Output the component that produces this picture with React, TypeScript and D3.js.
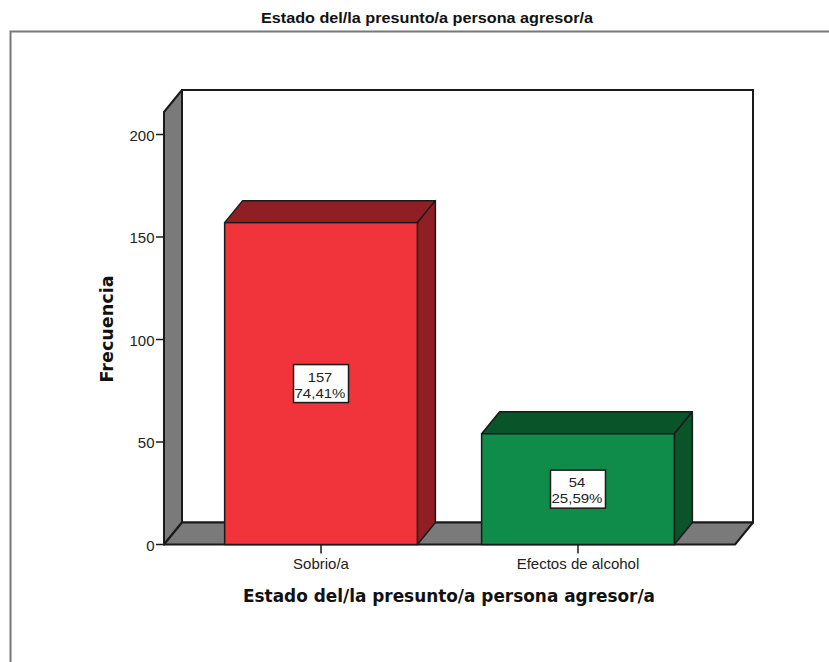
import React from "react";
import * as d3 from "d3";

const categories = ["Sobrio/a", "Efectos de alcohol"];
const counts = [157, 54];
const percents = ["74,41%", "25,59%"];
const yTicks = [0, 50, 100, 150, 200];
const fronts = ["#f1333c", "#0f8c4a"];
const sides = ["#8f1f24", "#0a5429"];
const chartTitle = "Estado del/la presunto/a persona agresor/a";
const yTitle = "Frecuencia";

const W = 829, H = 662;
const DX = 18, DY = -22;
const y = d3.scaleLinear().domain([0, 200]).range([544.5, 134.5]);
const x = d3.scaleBand<string>().domain(categories).range([164, 735]).paddingInner(0.25).paddingOuter(0.236);
const yTop = 112;
const x0 = x.range()[0], x1 = x.range()[1], y0 = y(0);
const pts = (a: number[][]) => a.map((p) => p.join(",")).join(" ");
const ink = "#1a1a1a";
const sans = "'Liberation Sans', Arial, sans-serif";

export default function App() {
  return (
    <svg width={W} height={H} style={{ position: "absolute", left: 0, top: 0, background: "#fff" }}>
      <text x={427} y={23} textAnchor="middle" fontFamily={sans} fontWeight="bold" fontSize={15.5} textLength={332} lengthAdjust="spacingAndGlyphs" fill="#111">{chartTitle}</text>
      <path d={`M10.5 662V31.5H829`} fill="none" stroke="#777" strokeWidth={2} />

      {/* back wall */}
      <rect x={x0 + DX} y={yTop + DY} width={x1 - x0} height={y0 - yTop} fill="#fff" stroke={ink} strokeWidth={2} />
      {/* left wall */}
      <polygon points={pts([[x0, yTop], [x0 + DX, yTop + DY], [x0 + DX, y0 + DY], [x0, y0]])} fill="#7a7a7a" stroke={ink} strokeWidth={2} strokeLinejoin="round" />
      {/* floor */}
      <polygon points={pts([[x0, y0], [x0 + DX, y0 + DY], [x1 + DX, y0 + DY], [x1, y0]])} fill="#7a7a7a" stroke={ink} strokeWidth={2} strokeLinejoin="round" />

      {/* y axis */}
      {yTicks.map((t) => (
        <g key={t}>
          <line x1={x0 - 8} x2={x0} y1={y(t)} y2={y(t)} stroke={ink} strokeWidth={1.5} />
          <text x={x0 - 9.5} y={y(t) + 6} textAnchor="end" fontFamily={sans} fontSize={15} fill="#222">{t}</text>
        </g>
      ))}
      <text transform="translate(113,329) rotate(-90)" textAnchor="middle" fontFamily="'DejaVu Sans', Verdana, sans-serif" fontWeight="bold" fontSize={17.5} textLength={107} lengthAdjust="spacingAndGlyphs" fill="#111">{yTitle}</text>

      {/* bars */}
      {categories.map((c, i) => {
        const bx = x(c)!, bw = x.bandwidth(), by = y(counts[i]);
        const cx = bx + bw / 2, cy = (by + y0) / 2;
        return (
          <g key={c}>
            <polygon points={pts([[bx, by], [bx + DX, by + DY], [bx + bw + DX, by + DY], [bx + bw, by]])} fill={sides[i]} stroke={ink} strokeWidth={1.5} strokeLinejoin="round" />
            <polygon points={pts([[bx + bw, by], [bx + bw + DX, by + DY], [bx + bw + DX, y0 + DY], [bx + bw, y0]])} fill={sides[i]} stroke={ink} strokeWidth={1.5} strokeLinejoin="round" />
            <rect x={bx} y={by} width={bw} height={y0 - by} fill={fronts[i]} stroke={ink} strokeWidth={1.5} />
            <line x1={cx} x2={cx} y1={y0} y2={y0 + 9} stroke={ink} strokeWidth={1.5} />
            <text x={cx} y={y0 + 24} textAnchor="middle" fontFamily={sans} fontSize={15} fill="#222">{c}</text>
            <rect x={cx - 27.5} y={cy - 19} width={55} height={38} fill="#fff" stroke={ink} strokeWidth={1.5} />
            <text x={cx - 1} y={cy - 2} textAnchor="middle" fontFamily={sans} fontSize={13.5} textLength={String(counts[i]).length * 8.2} lengthAdjust="spacingAndGlyphs" fill="#222">{counts[i]}</text>
            <text x={cx - 1} y={cy + 14} textAnchor="middle" fontFamily={sans} fontSize={13.5} textLength={51} lengthAdjust="spacingAndGlyphs" fill="#222">{percents[i]}</text>
          </g>
        );
      })}
      <text x={449} y={602} textAnchor="middle" fontFamily="'DejaVu Sans', Verdana, sans-serif" fontWeight="bold" fontSize={17.5} textLength={412} lengthAdjust="spacingAndGlyphs" fill="#111">{chartTitle}</text>
    </svg>
  );
}
